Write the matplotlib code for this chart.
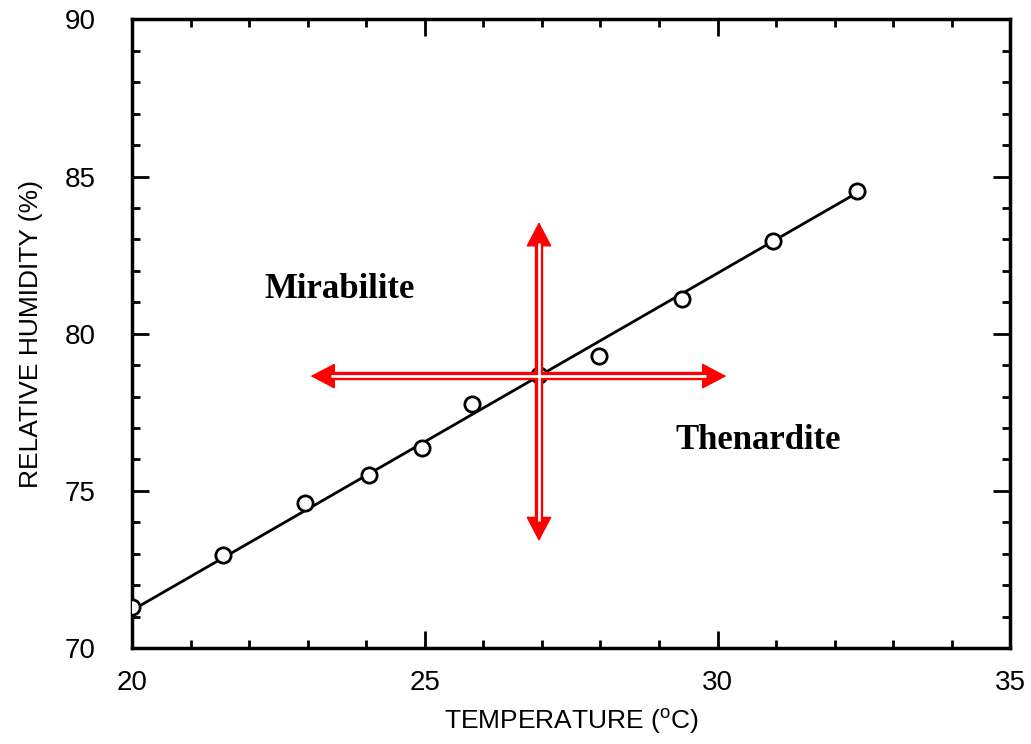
import numpy as np
import matplotlib
matplotlib.use("Agg")
import matplotlib.pyplot as plt

# measured points (open circles)
temp = [20.0, 21.55, 22.95, 24.05, 24.95, 25.8, 26.95, 27.98, 29.4, 30.95, 32.38]
rh = [71.3, 72.95, 74.6, 75.5, 76.35, 77.75, 78.7, 79.3, 81.1, 82.95, 84.55]

# fitted line end points
fit_t = [20.0, 32.4]
fit_rh = [71.2, 84.5]

# red arrows
arrow_h = (23.05, 30.15, 78.65)   # x from, x to, at y
arrow_v = (26.95, 73.4, 83.55)    # at x, y from, y to

plt.rcParams['font.family'] = ['Liberation Sans', 'DejaVu Sans']
plt.rcParams['mathtext.fontset'] = 'custom'
plt.rcParams['mathtext.rm'] = 'Liberation Sans'
plt.rcParams['mathtext.it'] = 'Liberation Sans'

fig = plt.figure(figsize=(10.31, 7.44), dpi=100)
ax = fig.add_axes([0.128, 0.129, 0.852, 0.845])

ax.plot(fit_t, fit_rh, color='black', lw=2, zorder=3)
ax.plot(temp, rh, 'o', ms=11, mfc='white', mec='black', mew=2, zorder=4)


def double_arrow(x0, y0, x1, y1, head):
    # filled heads on both ends
    ax.annotate('', xy=(x1, y1), xytext=(x0, y0),
                arrowprops=dict(arrowstyle='<|-|>,head_length=0.8,head_width=0.42',
                                mutation_scale=20, color='red', lw=1,
                                shrinkA=0, shrinkB=0),
                zorder=5)
    dx, dy = (x1 - x0), (y1 - y0)
    n = np.hypot(dx, dy)
    ux, uy = dx / n * head, dy / n * head
    ax.plot([x0 + ux, x1 - ux], [y0 + uy, y1 - uy], color='red', lw=6,
            zorder=5, solid_capstyle='butt')
    ax.plot([x0 + ux, x1 - ux], [y0 + uy, y1 - uy], color='white', lw=2,
            zorder=6, solid_capstyle='butt')


double_arrow(arrow_h[0], arrow_h[2], arrow_h[1], arrow_h[2], 0.35)
double_arrow(arrow_v[0], arrow_v[1], arrow_v[0], arrow_v[2], 0.65)

ax.text(23.55, 81.4, 'Mirabilite', family=['Liberation Serif'], weight='bold',
        fontsize=25, ha='center', va='center')
ax.text(30.7, 76.6, 'Thenardite', family=['Liberation Serif'], weight='bold',
        fontsize=25, ha='center', va='center')

ax.set_xlim(20, 35)
ax.set_ylim(70, 90)
ax.set_xticks([20, 25, 30, 35])
ax.set_yticks([70, 75, 80, 85, 90])
ax.set_xticks(np.arange(20, 36, 1), minor=True)
ax.set_yticks(np.arange(70, 91, 1), minor=True)
ax.tick_params(which='both', direction='in', top=True, right=True, width=2,
               labelsize=20)
ax.tick_params(which='major', length=12)
ax.tick_params(which='minor', length=6)
ax.tick_params(axis='x', pad=16)
ax.tick_params(axis='y', pad=26)
for s in ax.spines.values():
    s.set_linewidth(2.5)

ax.set_xlabel('TEMPERATURE ($^{\\mathrm{o}}$C)', fontsize=19, labelpad=8)
ax.set_ylabel('RELATIVE HUMIDITY (%)', fontsize=19, labelpad=16)

fig.savefig('out.png', dpi=100)
